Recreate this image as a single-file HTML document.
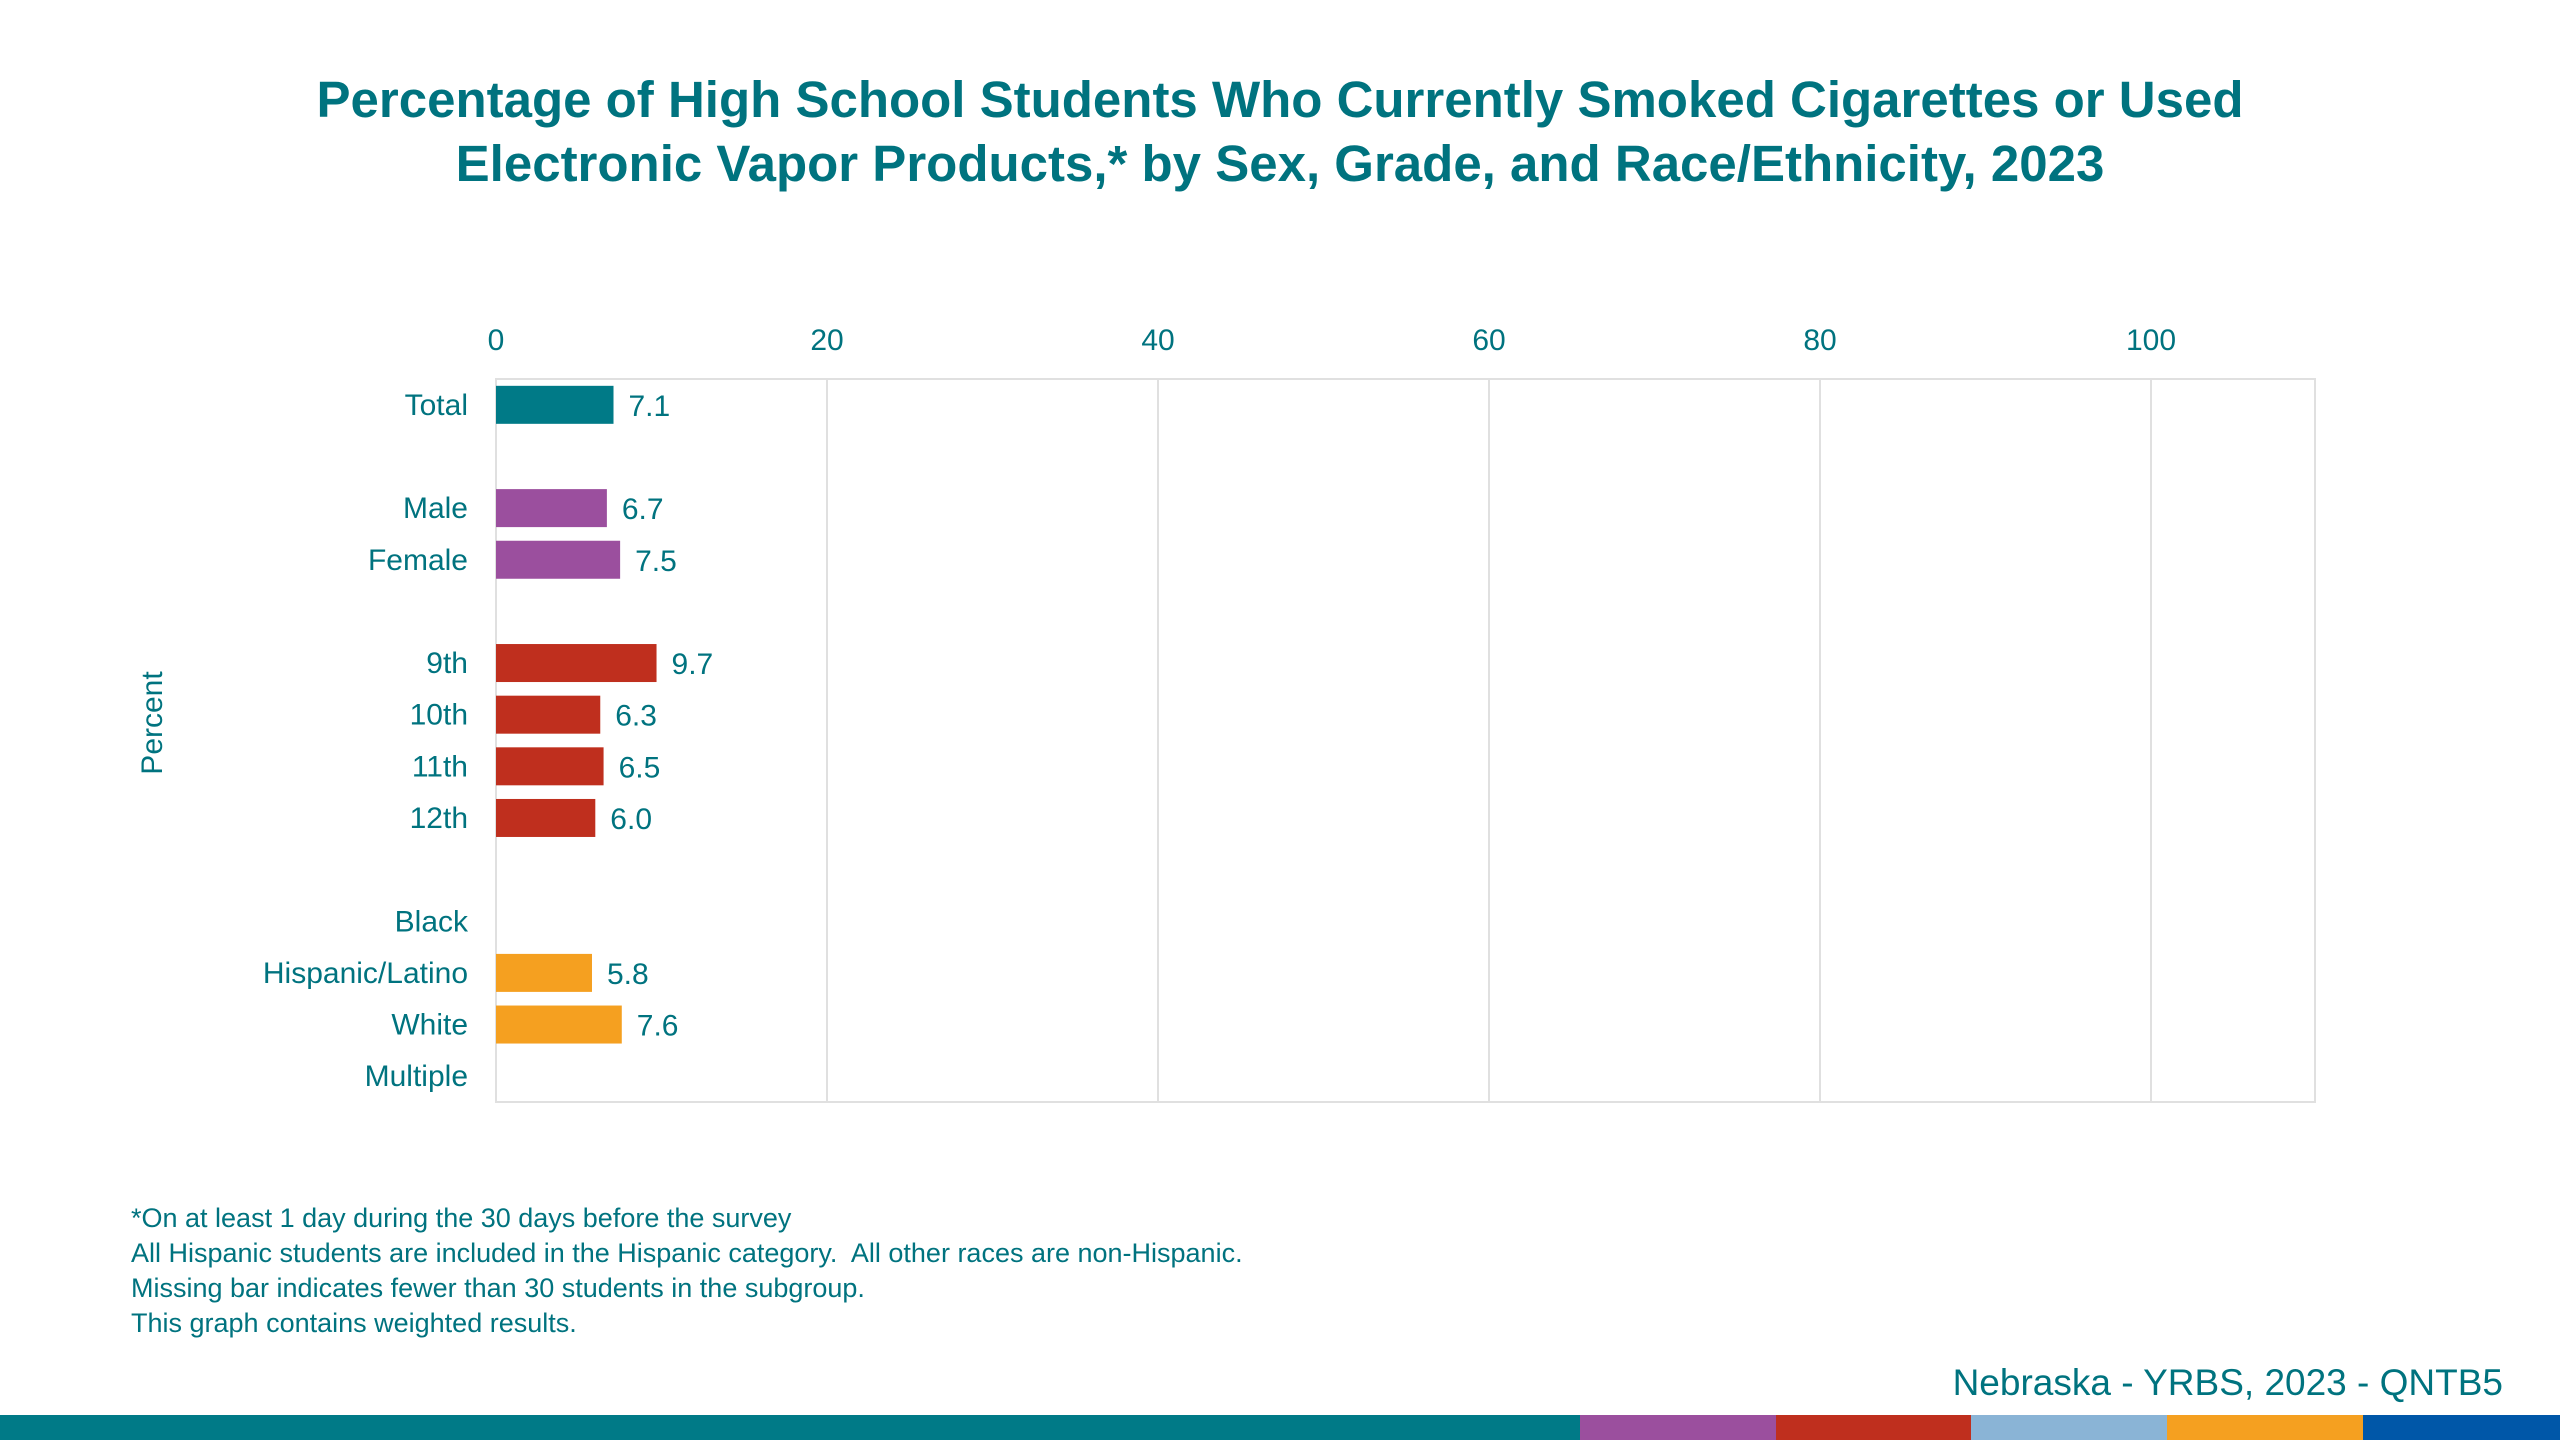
<!DOCTYPE html>
<html><head><meta charset="utf-8"><style>
html,body{margin:0;padding:0;background:#fff}
body{width:2560px;height:1440px;position:relative;overflow:hidden;font-family:"Liberation Sans",Arial,sans-serif;color:#00737f}
#title{position:absolute;left:0;width:2560px;top:68px;text-align:center;font-weight:bold;font-size:51px;line-height:64px;color:#00737f}
.fn{position:absolute;left:131px;font-size:27px;color:#00737f}
#src{position:absolute;right:57px;top:1362px;font-size:37px;color:#00737f}
.band{position:absolute;top:1415px;height:25px}
</style></head><body>
<div id="title">Percentage of High School Students Who Currently Smoked Cigarettes or Used<br>Electronic Vapor Products,* by Sex, Grade, and Race/Ethnicity, 2023</div>
<svg id="chart" width="2560" height="1200" style="position:absolute;left:0;top:0" font-family="Liberation Sans, Arial, sans-serif"></svg>
<div class="fn" style="top:1203px">*On at least 1 day during the 30 days before the survey</div>
<div class="fn" style="top:1238px">All Hispanic students are included in the Hispanic category.&nbsp; All other races are non-Hispanic.</div>
<div class="fn" style="top:1273px">Missing bar indicates fewer than 30 students in the subgroup.</div>
<div class="fn" style="top:1308px">This graph contains weighted results.</div>
<div id="src">Nebraska - YRBS, 2023 - QNTB5</div>
<div class="band" style="left:0;width:1580px;background:#007a87"></div>
<div class="band" style="left:1580px;width:196px;background:#9b4f9e"></div>
<div class="band" style="left:1776px;width:195px;background:#bf2f1e"></div>
<div class="band" style="left:1971px;width:196px;background:#8ab4d6"></div>
<div class="band" style="left:2167px;width:196px;background:#f5a020"></div>
<div class="band" style="left:2363px;width:197px;background:#0057a8"></div>
<script>
const categories=["Total","Male","Female","9th","10th","11th","12th","Black","Hispanic/Latino","White","Multiple"];
const slots=[0,2,3,5,6,7,8,10,11,12,13];
const values=[7.1,6.7,7.5,9.7,6.3,6.5,6.0,null,5.8,7.6,null];
const groups=["total","sex","sex","grade","grade","grade","grade","race","race","race","race"];
const tickValues=[0,20,40,60,80,100];
const groupColors={total:"#007a87",sex:"#9b4f9e",grade:"#bf2f1e",race:"#f5a020"};
const NS="http://www.w3.org/2000/svg";
const svg=document.getElementById('chart');
const L=496,R=2315,T=379,B=1102,nSlots=14;
const x=v=>L+v*(2151-L)/100;
const slotH=(B-T)/nSlots;
const y=i=>T+(i+0.5)*slotH;
function el(tag,attrs){const e=document.createElementNS(NS,tag);for(const k in attrs)e.setAttribute(k,attrs[k]);svg.appendChild(e);return e;}
const frame=el('rect',{x:L,y:T,width:R-L,height:B-T,fill:'none',stroke:'#e0e0e0','stroke-width':2});


tickValues.forEach(t=>{
  const g=el('line',{x1:x(t),x2:x(t),y1:T,y2:B,stroke:'#e0e0e0','stroke-width':2});
  
  
  const tl=el('text',{x:x(t),y:350,'text-anchor':'middle','font-size':30,fill:'#00737f'});
  tl.textContent=t;
  
  
});
categories.forEach((c,i)=>{
  const cy=y(slots[i]);
  const lab=el('text',{x:468,y:cy+10,'text-anchor':'end','font-size':30,fill:'#00737f'});
  lab.textContent=c;
  
  
  const v=values[i];
  if(v!==null){
    const b=el('rect',{x:x(0),y:cy-19,width:x(v)-x(0),height:38,fill:groupColors[groups[i]]});
    
    
    const vl=el('text',{x:x(v)+15,y:cy+11,'font-size':30,fill:'#00737f'});
    vl.textContent=v.toFixed(1);
    
    
  }
});
const yt=el('text',{x:0,y:0,'text-anchor':'middle','font-size':30,fill:'#00737f',transform:'translate(162,723) rotate(-90)'});
yt.textContent='Percent';


</script>
</body></html>
